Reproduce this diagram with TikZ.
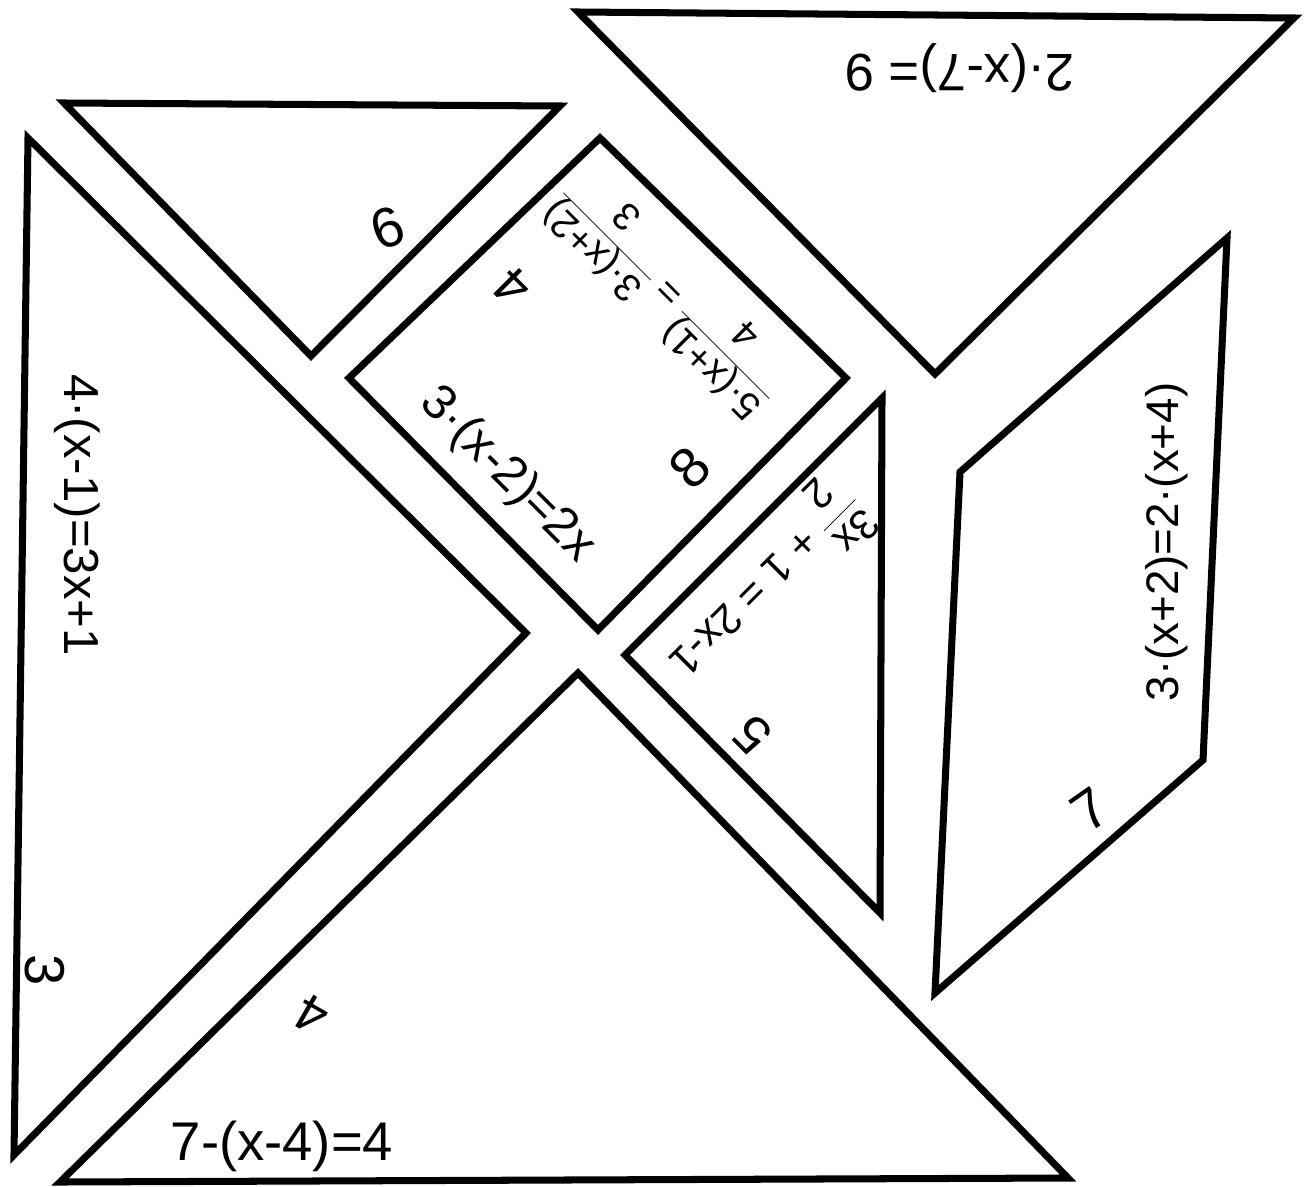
\documentclass[tikz,border=0pt]{standalone}
\usepackage{fontspec}
\setmainfont{Liberation Sans}
\usepackage{tikz}

\newcommand{\hfrac}[2]{\begin{tabular}{@{}c@{}}#1\\[-2pt]\hline\rule{0pt}{1.05em}#2\end{tabular}}

\begin{document}
\begin{tikzpicture}[x=0.02cm, y=-0.02cm, line join=miter, line cap=round]
      \tikzset{piece/.style={line width=4pt},
        hand/.style={inner sep=0pt, font=\fontsize{#1}{#1}\selectfont},
        hand/.default=30}
      \useasboundingbox (0,0) rectangle (1311,1186);

      % small triangle, top left
      \coordinate (A) at (64,103);
      \coordinate (B) at (560,106);
      \coordinate (C) at (311,356);
      % big triangle, left
      \coordinate (D) at (28,138);
      \coordinate (E) at (526,633);
      \coordinate (F) at (14,1155);
      % big triangle, bottom
      \coordinate (G) at (578,673);
      \coordinate (H) at (60,1182);
      \coordinate (I) at (1068,1178);
      % square
      \coordinate (J) at (600,138);
      \coordinate (K) at (846,378);
      \coordinate (L) at (598,630);
      \coordinate (M) at (349,378);
      % small triangle, middle
      \coordinate (N) at (625,655);
      \coordinate (O) at (882,398);
      \coordinate (P) at (880,913);
      % middle triangle, top right
      \coordinate (Q) at (578,12);
      \coordinate (R) at (1294,18);
      \coordinate (S) at (935,374);
      % parallelogram
      \coordinate (T) at (1227,238);
      \coordinate (U) at (960,472);
      \coordinate (V) at (935,993);
      \coordinate (W) at (1203,760);

      \draw[piece] (A)--(B)--(C)--cycle;
      \draw[piece] (D)--(E)--(F)--cycle;
      \draw[piece] (G)--(H)--(I)--cycle;
      \draw[piece] (J)--(K)--(L)--(M)--cycle;
      \draw[piece] (N)--(O)--(P)--cycle;
      \draw[piece] (Q)--(R)--(S)--cycle;
      \draw[piece] (T)--(U)--(V)--(W)--cycle;

      % equations
      \node[hand=28, rotate=-90] (eqL) at (77,515) {4·(x-1)=3x+1};
      \node[hand=31] (eqB) at (282,1146) {7-(x-4)=4};
      \node[hand=30, rotate=180] (eqT) at (960,68) {2·(x-7)= 9};
      \node[hand=26, rotate=90] (eqP) at (1167,542) {3·(x+2)=2·(x+4)};
      \node[hand=28, rotate=-45] (eqS) at (507,475) {3·(x-2)=2x};
      \node[hand=22, rotate=135] (eqF) at (672,290)
        {\hfrac{5·(x+1)}{4} = \hfrac{3·(x+2)}{3}};
      \node[hand=24, rotate=-135] (eqM) at (762,580)
        {\hfrac{3x}{2} + 1 = 2x-1};

      % numbers
      \node[hand=32, rotate=20] (n6) at (388,228) {6};
      \node[hand=30, rotate=135] (n4a) at (512,287) {4};
      \node[hand=32, rotate=45] (n8) at (690,468) {8};
      \node[hand=30, rotate=135] (n5) at (752,735) {5};
      \node[hand=32, rotate=35] (n7) at (1090,810) {7};
      \node[hand=30, rotate=150] (n4b) at (312,1015) {4};
      \node[hand=32, rotate=-90] (n3) at (45,970) {3};
\end{tikzpicture}
\end{document}
